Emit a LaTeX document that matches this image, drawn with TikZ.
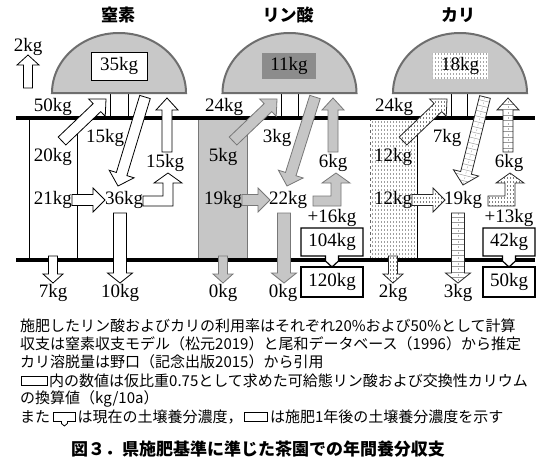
\documentclass[tikz,border=0pt]{standalone}
\usepackage{fontspec}
\setmainfont{Liberation Serif}
\newfontfamily\cjk{Noto Sans CJK JP}
\usetikzlibrary{calc,patterns}

\definecolor{domefill}{HTML}{C8C8C8}
\definecolor{domeline}{HTML}{6E6E6E}
\definecolor{pgray}{HTML}{C6C6C6}
\definecolor{pline}{HTML}{777777}
\definecolor{darkbox}{HTML}{8C8C8C}

% vertical dotted stipple
\pgfdeclarepatternformonly{vstip}{\pgfqpoint{-0.5pt}{-0.5pt}}{\pgfqpoint{3.5pt}{4.5pt}}{\pgfqpoint{3pt}{4pt}}{%
  \pgfpathrectangle{\pgfqpoint{0pt}{0pt}}{\pgfqpoint{0.5pt}{1.6pt}}\pgfusepath{fill}}

% block arrow geometry
\newcommand\bcoords[3]{% {start}{tip}{head length}
  \coordinate (ba-s) at (#1);
  \coordinate (ba-t) at (#2);
  \coordinate (ba-h) at ($(ba-t)!#3pt!(ba-s)$);}
\newcommand\bpath[2]{% {shaft half width}{head half width}
  ($(ba-s)!#1pt!90:(ba-t)$) -- ($(ba-h)!#1pt!90:(ba-t)$) -- ($(ba-h)!#2pt!90:(ba-t)$) -- (ba-t) -- ($(ba-h)!#2pt!-90:(ba-t)$) -- ($(ba-h)!#1pt!-90:(ba-t)$) -- ($(ba-s)!#1pt!-90:(ba-t)$) -- cycle}
% [style]{start}{tip}{shaft half}{head half}{head length}
\newcommand\barrow[6][]{\bcoords{#2}{#3}{#6}\draw[#1] \bpath{#4}{#5};}
% ladder-filled arrow
\newcommand\larrow[5]{\bcoords{#1}{#2}{#5}%
  \fill[white] \bpath{#3}{#4};
  \begin{scope}
    \clip \bpath{#3}{#4};
    \foreach \d in {4,9.5,...,98} \draw[black!40, line width=0.45pt] ($(ba-s)!\d pt!(ba-t)!15pt!90:(ba-t)$) -- ($(ba-s)!\d pt!(ba-t)!15pt!-90:(ba-t)$);
    \draw[black!30, line width=0.4pt, dash pattern=on 2pt off 3.5pt] (ba-s) -- (ba-t);
  \end{scope}
  \draw[black!85, line width=0.8pt] \bpath{#3}{#4};}
% elbow arrow: [style]{x start}{y centre}{x centre of rising part}{tip y}
\newcommand\elbow[5][]{%
  \draw[#1] (#2,{#3-5}) -- ({#4-5},{#3-5}) -- ({#4-5},{#5+10}) -- ({#4-14},{#5+10}) -- (#4,#5) -- ({#4+14},{#5+10}) -- ({#4+5},{#5+10}) -- ({#4+5},{#3+5}) -- (#2,{#3+5}) -- cycle;}
\newcommand\domeshape[1]{%
  \draw[dome] ({#1-67},93) arc[start angle=180, end angle=360, x radius=67, y radius=60] -- cycle;}

\begin{document}
\begin{tikzpicture}[x=1pt,y=-1pt,
  lbl/.style={font=\fontsize{19}{21}\selectfont, inner sep=0pt},
  jp/.style={font=\cjk\fontsize{15}{18}\selectfont, inner sep=0pt, anchor=west},
  hdr/.style={font=\cjk\bfseries\fontsize{17}{20}\selectfont, inner sep=0pt},
  narr/.style={fill=white, draw=black, line width=0.8pt},
  parr/.style={fill=pgray, draw=pline, line width=0.8pt},
  kdots/.style={preaction={fill=white}, pattern=vstip, pattern color=black!50, draw=black!85, line width=0.8pt},
  soil/.style={line width=4.5pt},
  dome/.style={fill=domefill, draw=domeline, line width=2pt},
  stem/.style={line width=0.8pt},
  cbox/.style={fill=white, draw=black, line width=1.2pt},
]
\fill[white] (0,0) rectangle (560,471);
\useasboundingbox (0,0) rectangle (560,471);

% headers
\node[hdr] (h-n) at (118,15) {窒素};
\node[hdr] (h-p) at (288,15) {リン酸};
\node[hdr] (h-k) at (458,15) {カリ};

% columns
\draw[line width=0.8pt] (29,118) rectangle (77,260);
\draw[fill=pgray, draw=pline, line width=0.8pt] (198,118) rectangle (247,260);
\fill[white] (370,118) rectangle (417,260);
\fill[pattern=vstip, pattern color=black!38] (370,118) rectangle (417,260);
\draw[dashed, black!60, line width=0.6pt] (370,118) -- (370,260);
\draw[line width=0.8pt] (417,118) -- (417,260);

% soil lines
\draw[soil] (16,118) -- (535,118);
\draw[soil] (16,260) -- (535,260);

% stems
\draw[stem] (110,93) -- (110,118) (128,93) -- (128,118);
\draw[stem] (281,93) -- (281,118) (298,93) -- (298,118);
\draw[stem] (451,93) -- (451,118) (467,93) -- (467,118);

% domes
\domeshape{119}
\domeshape{289.5}
\domeshape{460}
\node[lbl, draw, fill=white, line width=0.8pt, minimum width=56pt, minimum height=28pt] (n-tot) at (119,66) {35kg};
\node[lbl, fill=darkbox, minimum width=54pt, minimum height=26pt] (p-tot) at (289,66) {11kg};
\node[lbl, preaction={fill=white}, pattern=vstip, pattern color=black!35, minimum width=55pt, minimum height=26pt] (k-tot) at (460,66) {18kg};

% nitrogen arrows
\barrow[narr]{28,88}{28,55}{4.5}{11}{10}
\barrow[narr]{62,141}{106,99}{5.5}{12}{12.5}
\barrow[narr]{145,97}{118,186}{5.5}{13}{12.5}
\barrow[narr]{167,152}{167,98}{5}{11}{12}
\barrow[narr]{72,200}{105,200}{5.5}{12}{12}
\elbow[narr]{143}{201}{168}{173}
\barrow[narr]{53,256}{53,283}{4.5}{10}{9}
\barrow[narr]{120,213}{120,283}{6.5}{12.5}{10}

% phosphate arrows
\barrow[parr]{233,141}{277,99}{5.5}{12}{12.5}
\barrow[parr]{315,97}{287,186}{5.5}{13}{12.5}
\barrow[parr]{333,152}{333,98}{5}{11}{12}
\barrow[parr]{242,200}{270,200}{5.5}{12}{12}
\elbow[parr]{313}{201}{336}{173}
\barrow[parr]{223,256}{223,283}{4.5}{10}{9}
\barrow[parr]{284,213}{284,283}{6.5}{12.5}{10}

% potassium arrows
\barrow[kdots]{403,141}{447,99}{5.5}{12}{12.5}
\larrow{485,97}{463,185}{5.5}{13}{12.5}
\larrow{508,152}{508,98}{5}{11}{12}
\barrow[kdots]{412,200}{445,200}{5.5}{12}{12}
\elbow[kdots]{488}{201}{510}{173}
\barrow[kdots]{393,256}{393,283}{4.5}{10}{9}
\larrow{458,213}{458,283}{6.5}{12.5}{10}

% soil concentration boxes
\draw[cbox] (301,228) -- (363,228) -- (363,256) -- (338.5,256) -- (338.5,261) -- (332,267) -- (325.5,261) -- (325.5,256) -- (301,256) -- cycle;
\draw[cbox] (301,267) rectangle (363,297);
\draw[cbox] (483,228) -- (535,228) -- (535,256) -- (515.5,256) -- (515.5,261) -- (509,267) -- (502.5,261) -- (502.5,256) -- (483,256) -- cycle;
\draw[cbox] (483,267) rectangle (535,297);

% nitrogen labels
\node[lbl] (n2) at (28,47) {2kg};
\node[lbl] (n50) at (53,107) {50kg};
\node[lbl] (n20) at (53,157) {20kg};
\node[lbl] (n15a) at (105,138) {15kg};
\node[lbl] (n15b) at (165,163) {15kg};
\node[lbl] (n21) at (53,200) {21kg};
\node[lbl] (n36) at (124,200) {36kg};
\node[lbl] (n7) at (53,293) {7kg};
\node[lbl] (n10) at (120,293) {10kg};

% phosphate labels
\node[lbl] (p24) at (224,107) {24kg};
\node[lbl] (p5) at (223,157) {5kg};
\node[lbl] (p3) at (277,138) {3kg};
\node[lbl] (p6) at (333,163) {6kg};
\node[lbl] (p19) at (223,200) {19kg};
\node[lbl] (p22) at (288,200) {22kg};
\node[lbl] (p0a) at (223,293) {0kg};
\node[lbl] (p0b) at (283,293) {0kg};
\node[lbl] (p16) at (332,218) {+16kg};
\node[lbl] (pnow) at (332,242) {104kg};
\node[lbl] (pnext) at (332,282) {120kg};

% potassium labels
\node[lbl] (k24) at (394,107) {24kg};
\node[lbl] (k12a) at (393,157) {12kg};
\node[lbl] (k7) at (447,138) {7kg};
\node[lbl] (k6) at (509,163) {6kg};
\node[lbl] (k12b) at (393,200) {12kg};
\node[lbl] (k19) at (463,200) {19kg};
\node[lbl] (k2) at (393,293) {2kg};
\node[lbl] (k3) at (458,293) {3kg};
\node[lbl] (k13) at (509,218) {+13kg};
\node[lbl] (know) at (509,242) {42kg};
\node[lbl] (knext) at (509,282) {50kg};

% caption
\node[jp] (c1) at (20,326) {施肥したリン酸およびカリの利用率はそれぞれ20\%および50\%として計算};
\node[jp] (c2) at (20,344) {収支は窒素収支モデル（松元2019）と尾和データベース（1996）から推定};
\node[jp] (c3) at (20,362) {カリ溶脱量は野口（記念出版2015）から引用};
\draw[line width=0.8pt] (21,376.5) rectangle (47,385.5);
\node[jp] (c4) at (49,381) {内の数値は仮比重0.75として求めた可給態リン酸および交換性カリウム};
\node[jp] (c5) at (20,399) {の換算値（kg/10a）};
\node[jp] (c6a) at (20,417) {また};
\draw[line width=0.8pt, fill=white] ($(c6a.east)+(3,-4.5)$) -- ++(22,0) -- ++(0,9) -- ++(-8,0) -- ++(0,2) -- ++(-3,2.5) -- ++(-3,-2.5) -- ++(0,-2) -- ++(-8,0) -- cycle;
\node[jp] (c6b) at ($(c6a.east)+(27,0)$) {は現在の土壌養分濃度，};
\draw[line width=0.8pt] ($(c6b.east)+(2,-4.5)$) rectangle ++(23,9);
\node[jp] (c6c) at ($(c6b.east)+(27,0)$) {は施肥1年後の土壌養分濃度を示す};

\node[font=\cjk\bfseries\fontsize{17}{20}\selectfont, inner sep=0pt] (title) at (258,449) {図３．県施肥基準に準じた茶園での年間養分収支};
\end{tikzpicture}
\end{document}
